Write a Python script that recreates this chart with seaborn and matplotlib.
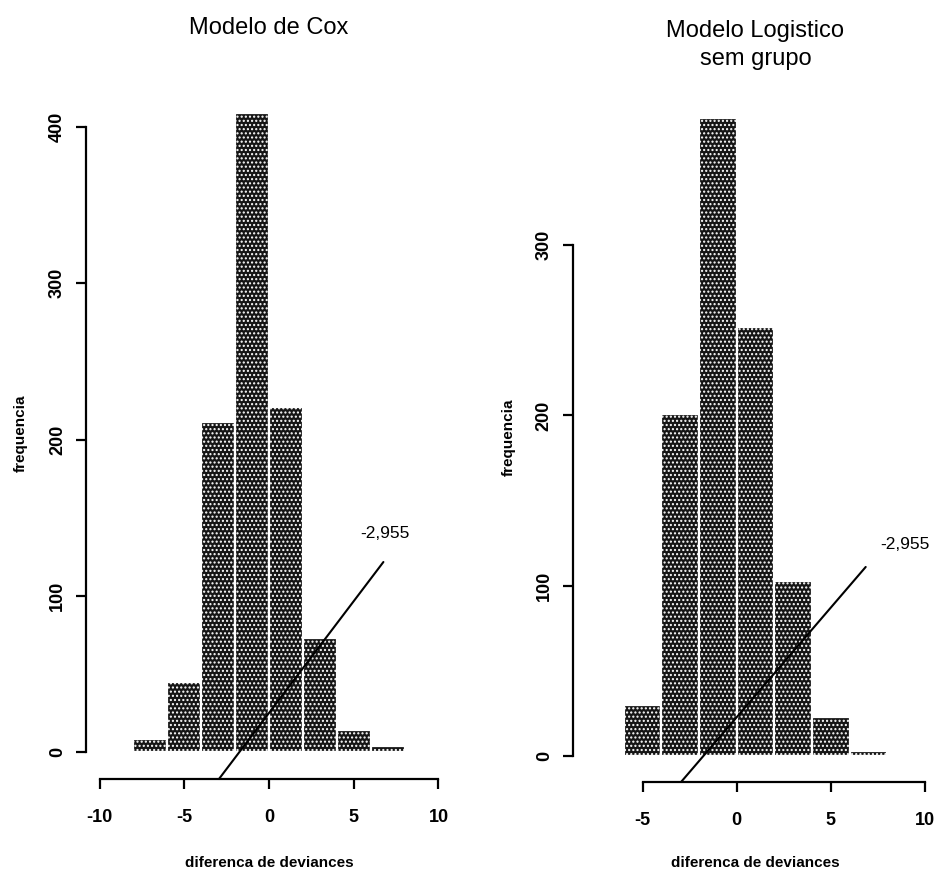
import numpy as np
import pandas as pd
import matplotlib
matplotlib.use("Agg")
import matplotlib.pyplot as plt
import seaborn as sns

# ---- data ----
cox_edges = [-8, -6, -4, -2, 0, 2, 4, 6, 8]
cox_counts = [8, 45, 211, 409, 221, 73, 14, 4]

log_edges = [-6, -4, -2, 0, 2, 4, 6, 8]
log_counts = [30, 201, 375, 252, 103, 23, 3]

titles = ["Modelo de Cox", "Modelo Logistico\nsem grupo"]
xlabel = "diferenca de deviances"
ylabel = "frequencia"
obs_value = -2.955
obs_label = "-2,955"

cox_xticks = [-10, -5, 0, 5, 10]
cox_yticks = [0, 100, 200, 300, 400]
log_xticks = [-5, 0, 5, 10]
log_yticks = [0, 100, 200, 300]

sns.set_style("ticks")
plt.rcParams["font.family"] = ["Liberation Sans", "DejaVu Sans"]
plt.rcParams["text.color"] = "black"
plt.rcParams["axes.labelcolor"] = "black"
plt.rcParams["hatch.linewidth"] = 1.0

fig = plt.figure(figsize=(9.37, 8.75), dpi=100)
ax1 = fig.add_axes([0.0918, 0.1097, 0.3906, 0.7897])
ax2 = fig.add_axes([0.6115, 0.1063, 0.3895, 0.7886])

panels = [
    (ax1, cox_edges, cox_counts, cox_xticks, cox_yticks, (-10.8, 10.8), (-17.3, 425),
     titles[0], 1.087, (6.75, 121.6), (6.87, 140), -0.178, -0.1216),
    (ax2, log_edges, log_counts, log_xticks, log_yticks, (-8.7, 10.7), (-15.3, 390),
     titles[1], 1.068, (6.86, 111), (8.94, 124), -0.175, -0.117),
]

narrow = ["Liberation Sans Narrow", "Liberation Sans", "DejaVu Sans"]

for (ax, edges, counts, xt, yt, xl, yl, title, ty, lend, tpos, ylx, xly) in panels:
    centers = [(edges[i] + edges[i + 1]) / 2 for i in range(len(counts))]
    df = pd.DataFrame({"x": centers, "w": counts})
    sns.histplot(data=df, x="x", weights="w", bins=edges, ax=ax,
                 color="#151515", edgecolor="white", linewidth=1.6,
                 alpha=1, hatch="....")
    ax.set_xlim(*xl)
    ax.set_ylim(*yl)
    ax.set_xticks(xt)
    ax.set_yticks(yt)
    ax.set_xticklabels([str(v) for v in xt], fontsize=13, fontweight="bold")
    ax.set_yticklabels([str(v) for v in yt], fontsize=13, fontweight="bold",
                       rotation=90, va="center")
    for s in ["top", "right"]:
        ax.spines[s].set_visible(False)
    ax.spines["left"].set_bounds(yt[0], yt[-1])
    ax.spines["bottom"].set_bounds(xt[0], xt[-1])
    for s in ["left", "bottom"]:
        ax.spines[s].set_linewidth(1.6)
        ax.spines[s].set_color("black")
    ax.tick_params(axis="both", direction="out", length=7.5, width=1.6, colors="black")
    ax.tick_params(axis="y", pad=7)
    ax.tick_params(axis="x", pad=14)
    ax.set_xlabel(xlabel, fontsize=11, fontweight="bold", va="center")
    ax.xaxis.set_label_coords(0.5, xly)
    ax.set_ylabel(ylabel, fontsize=11, fontweight="bold", va="center")
    ax.yaxis.set_label_coords(ylx, 0.5)
    ax.set_title(title, fontsize=17, y=ty, va="center", pad=0,
                 family=narrow, linespacing=1.3, color="black")
    ax.plot([obs_value, lend[0]], [yl[0], lend[1]], color="black", lw=1.5,
            clip_on=False)
    ax.text(tpos[0], tpos[1], obs_label, fontsize=12.5, ha="center", va="center",
            family=narrow, color="black")

fig.savefig("out.png", dpi=100)
